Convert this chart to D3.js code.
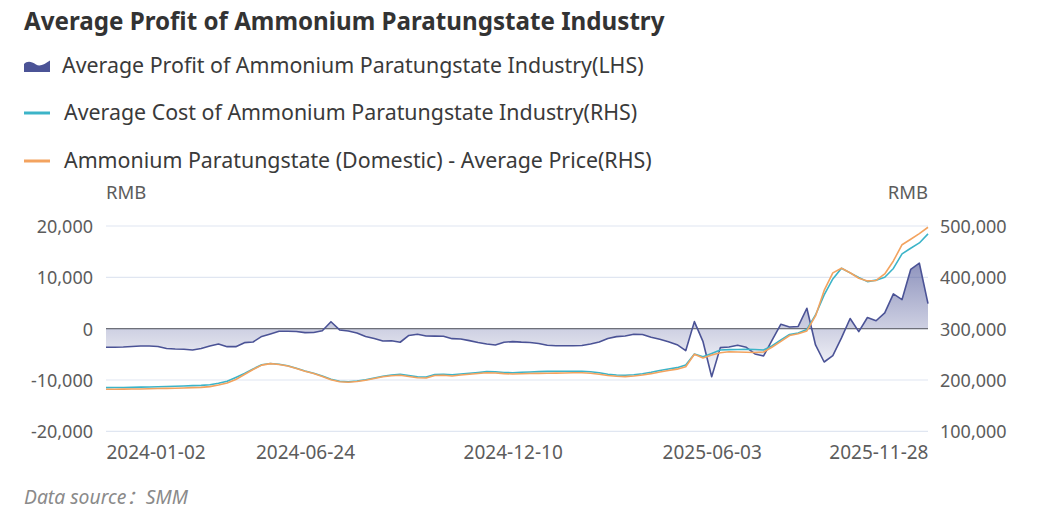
<!DOCTYPE html>
<html>
<head>
<meta charset="utf-8">
<script src="https://cdn.jsdelivr.net/npm/d3@7/dist/d3.min.js"></script>
<style>
  html, body { margin: 0; padding: 0; background: #ffffff; }
  svg { display: block; }
  text { font-family: "Noto Sans", "Noto Sans CJK SC", sans-serif; }
</style>
</head>
<body>
<svg id="chart" width="1046" height="520"></svg>
<script>
// ---------------- data ----------------
const dates = [
  "2024-01-02","2024-01-09","2024-01-16","2024-01-23","2024-01-30","2024-02-06","2024-02-20","2024-02-27",
  "2024-03-05","2024-03-12","2024-03-19","2024-03-26","2024-04-02","2024-04-09","2024-04-16","2024-04-23",
  "2024-04-30","2024-05-14","2024-05-21","2024-05-28","2024-06-04","2024-06-11","2024-06-18","2024-06-24",
  "2024-07-01","2024-07-08","2024-07-15","2024-07-22","2024-07-29","2024-08-05","2024-08-12","2024-08-19",
  "2024-08-26","2024-09-02","2024-09-09","2024-09-18","2024-09-23","2024-09-30","2024-10-08","2024-10-14",
  "2024-10-21","2024-10-28","2024-11-04","2024-11-11","2024-11-18","2024-11-25","2024-12-03","2024-12-10",
  "2024-12-17","2024-12-24","2024-12-31","2025-01-07","2025-01-14","2025-01-21","2025-02-05","2025-02-11",
  "2025-02-18","2025-02-25","2025-03-04","2025-03-11","2025-03-18","2025-03-25","2025-04-01","2025-04-08",
  "2025-04-15","2025-04-22","2025-04-29","2025-05-13","2025-05-20","2025-05-27","2025-06-03","2025-06-10",
  "2025-06-17","2025-06-24","2025-07-01","2025-07-08","2025-07-15","2025-07-22","2025-07-29","2025-08-05",
  "2025-08-12","2025-08-19","2025-08-26","2025-09-02","2025-09-09","2025-09-16","2025-09-23","2025-09-30",
  "2025-10-10","2025-10-17","2025-10-24","2025-10-31","2025-11-07","2025-11-14","2025-11-21","2025-11-28"
];

const profit = [
  -3630,-3630,-3570,-3470,-3370,-3370,-3470,-3860,-3960,-4020,
  -4150,-3860,-3370,-2980,-3510,-3510,-2730,-2600,-1520,-1030,
  -500,-500,-550,-780,-740,-400,1350,-250,-450,-840,
  -1520,-1910,-2400,-2360,-2650,-1330,-1090,-1420,-1460,-1480,
  -1950,-2010,-2340,-2690,-2980,-3180,-2650,-2520,-2630,-2690,
  -2890,-3240,-3320,-3320,-3330,-3280,-2980,-2590,-1910,-1560,
  -1420,-1090,-1130,-1680,-2070,-2540,-3120,-4290,1370,-2540,
  -9360,-3700,-3570,-3240,-3630,-4930,-5320,-2200,860,330,
  430,3980,-3180,-6500,-5270,-1810,1970,-590,2180,1540,
  3060,6770,5670,11530,12750,4880
];

const cost = [
  185000,185200,185400,185600,186000,186400,186800,187300,187700,188300,
  188900,189500,190700,193600,197500,204900,212700,221500,229600,232200,
  230600,227700,222800,217600,213100,207800,201600,197500,196500,198100,
  200400,203900,207400,209800,211100,208800,206300,205900,210700,211100,
  210200,211700,213100,214600,216200,216000,214600,214200,215000,215600,
  216200,216800,217000,217000,217000,217000,216000,214200,211100,209800,
  209200,210300,212100,215000,218500,221500,224000,229300,250700,245200,
  251700,258500,259100,259500,259900,259500,258500,266700,278000,288700,
  291600,298400,326700,365700,396900,417700,408600,399800,391600,394500,
  400200,417300,445600,456700,467000,484600
];

const price = [
  181900,181900,182100,182300,182500,182900,183300,183600,184000,184400,
  185000,185600,187000,190300,194200,201000,210700,220500,228900,231800,
  230200,227300,222400,217000,212700,206800,200400,196500,195500,197100,
  199400,202900,206300,208200,209200,206800,204300,203900,208800,209200,
  207800,209800,211100,212700,214200,213700,212300,211700,212100,212500,
  212900,213100,213300,213700,214000,214000,213100,211300,208800,207400,
  206600,207800,209600,212300,215600,218300,221100,225900,250100,242900,
  248700,253000,255000,254600,254000,253600,254600,264300,275100,286700,
  290100,295500,324800,374500,408600,417700,409000,398200,393000,393900,
  406600,431900,463500,474200,485200,497600
];

const xTickLabels = ["2024-01-02","2024-06-24","2024-12-10","2025-06-03","2025-11-28"];
const leftTicks = [-20000,-10000,0,10000,20000];
const rightTicks = [100000,200000,300000,400000,500000];

const titleText = "Average Profit of Ammonium Paratungstate Industry";
const seriesNames = [
  "Average Profit of Ammonium Paratungstate Industry(LHS)",
  "Average Cost of Ammonium Paratungstate Industry(RHS)",
  "Ammonium Paratungstate (Domestic) - Average Price(RHS)"
];
const unitLabel = "RMB";
const sourceText = "Data source：SMM";

// ---------------- layout ----------------
const colors = { profit: "#4B5396", cost: "#3CB4C8", price: "#F3A35F" };
const plot = { left: 106, right: 928, top: 226, bottom: 431.3 };

const svg = d3.select("#chart");

function fitWidth(sel, target) {
  const w = sel.node().getComputedTextLength();
  const fs = parseFloat(sel.attr("font-size"));
  return fs * target / w;
}
const numFmt = d => d3.format(",")(d).replace("\u2212", "-");

const x = d3.scalePoint().domain(dates).range([plot.left, plot.right]);
const yL = d3.scaleLinear().domain([-20000, 20000]).range([plot.bottom, plot.top]);
const yR = d3.scaleLinear().domain([100000, 500000]).range([plot.bottom, plot.top]);

// gradient for profit area
const ext = d3.extent(profit);
const defs = svg.append("defs");
const grad = defs.append("linearGradient")
  .attr("id", "profitGrad")
  .attr("gradientUnits", "userSpaceOnUse")
  .attr("x1", 0).attr("x2", 0)
  .attr("y1", yL(Math.max(ext[1], 0))).attr("y2", yL(Math.min(ext[0], 0)));
grad.append("stop").attr("offset", "0%").attr("stop-color", colors.profit).attr("stop-opacity", 0.62);
grad.append("stop").attr("offset", "100%").attr("stop-color", colors.profit).attr("stop-opacity", 0.02);

// grid lines (left axis)
const gridG = svg.append("g");
gridG.selectAll("line").data(leftTicks).join("line")
  .attr("x1", plot.left).attr("x2", plot.right)
  .attr("y1", d => yL(d)).attr("y2", d => yL(d))
  .attr("stroke", "#E0E6F1").attr("stroke-width", 1.2);

// left axis labels
const yAxisL = d3.axisLeft(yL).tickValues(leftTicks).tickSize(0).tickPadding(0).tickFormat(numFmt);
const gL = svg.append("g").attr("transform", `translate(${plot.left - 13},0)`).call(yAxisL);
gL.select(".domain").remove();
gL.selectAll("text").attr("fill", "#5c5c5c").attr("font-size", 18).attr("dy", "0.36em")
  .style("font-family", "'Noto Sans', sans-serif");

// right axis labels
const yAxisR = d3.axisRight(yR).tickValues(rightTicks).tickSize(0).tickPadding(0).tickFormat(numFmt);
const gR = svg.append("g").attr("transform", `translate(${plot.right + 12},0)`).call(yAxisR);
gR.select(".domain").remove();
gR.selectAll("text").attr("fill", "#5c5c5c").attr("font-size", 18).attr("dy", "0.36em")
  .style("font-family", "'Noto Sans', sans-serif");

// x axis labels
const xAxis = d3.axisBottom(x).tickValues(xTickLabels).tickSize(0).tickPadding(0);
const gX = svg.append("g").attr("transform", `translate(0,${plot.bottom + 28})`).call(xAxis);
gX.select(".domain").remove();
gX.selectAll("text").attr("fill", "#5c5c5c").attr("font-size", 19).attr("dy", 0)
  .style("font-family", "'Noto Sans', sans-serif")
  .attr("text-anchor", (d, i) => i === 0 ? "start" : (i === xTickLabels.length - 1 ? "end" : "middle"));

// unit labels
svg.append("text").attr("x", plot.left).attr("y", 199).attr("font-size", 18.5)
  .attr("fill", "#5c5c5c").text(unitLabel);
svg.append("text").attr("x", plot.right).attr("y", 199).attr("font-size", 18.5)
  .attr("fill", "#5c5c5c").attr("text-anchor", "end").text(unitLabel);

// profit area
const area = d3.area()
  .x((d, i) => x(dates[i]))
  .y0(yL(0))
  .y1(d => yL(d));
svg.append("path").datum(profit).attr("d", area).attr("fill", "url(#profitGrad)");

// zero line
svg.append("line").attr("x1", plot.left).attr("x2", plot.right)
  .attr("y1", yL(0)).attr("y2", yL(0)).attr("stroke", "#6E7079").attr("stroke-width", 1.3);

// lines
const lineL = d3.line().x((d, i) => x(dates[i])).y(d => yL(d));
const lineR = d3.line().x((d, i) => x(dates[i])).y(d => yR(d));
svg.append("path").datum(profit).attr("d", lineL).attr("fill", "none")
  .attr("stroke", colors.profit).attr("stroke-width", 1.6).attr("stroke-linejoin", "round");
svg.append("path").datum(cost).attr("d", lineR).attr("fill", "none")
  .attr("stroke", colors.cost).attr("stroke-width", 1.6).attr("stroke-linejoin", "round");
svg.append("path").datum(price).attr("d", lineR).attr("fill", "none")
  .attr("stroke", colors.price).attr("stroke-width", 1.6).attr("stroke-linejoin", "round");

// title
const title = svg.append("text").attr("x", 24).attr("y", 30).attr("font-size", 22)
  .attr("font-weight", "bold").attr("fill", "#333333").text(titleText);
title.attr("font-size", fitWidth(title, 641));

// legend
const legendY = [66, 113, 161];
const legendTextX = [62, 64, 64];
const legendTargets = [579, 573, 592];
const lg = svg.append("g");
// area icon
lg.append("path")
  .attr("d", "M24,72 L24,64 C27,61 31,61 36,64.5 C40,67 45,64 50,60.5 L50,72 Z")
  .attr("fill", colors.profit);
lg.append("line").attr("x1", 24).attr("x2", 50).attr("y1", legendY[1]).attr("y2", legendY[1])
  .attr("stroke", colors.cost).attr("stroke-width", 3);
lg.append("line").attr("x1", 24).attr("x2", 50).attr("y1", legendY[2]).attr("y2", legendY[2])
  .attr("stroke", colors.price).attr("stroke-width", 3);
const lts = seriesNames.map((n, i) => lg.append("text")
  .attr("x", legendTextX[i]).attr("y", legendY[i] + 7).attr("font-size", 20)
  .attr("fill", "#3a3a3a").text(n));
const sizes = lts.map((t, i) => fitWidth(t, legendTargets[i]));
const avgSize = d3.mean(sizes);
lts.forEach(t => t.attr("font-size", avgSize));

// data source
const src = svg.append("text").attr("x", 24).attr("y", 504).attr("font-size", 17)
  .attr("font-style", "italic").attr("fill", "#8a8a8a").text(sourceText);
src.attr("font-size", fitWidth(src, 164));
</script>
</body>
</html>
